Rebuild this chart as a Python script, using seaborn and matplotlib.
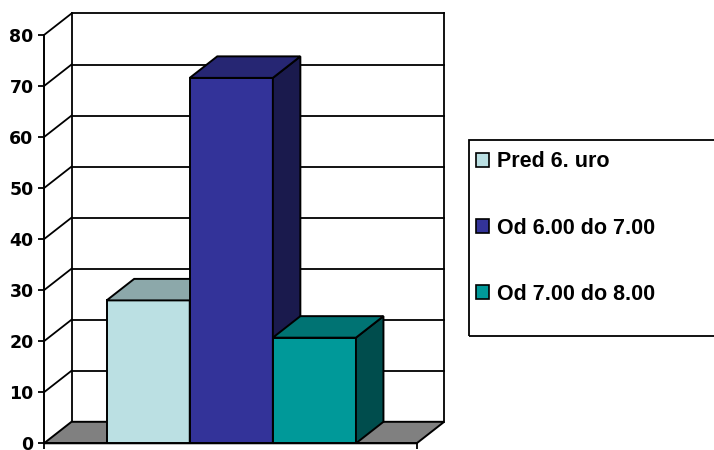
import pandas as pd
import matplotlib.pyplot as plt
import seaborn as sns
from matplotlib.patches import Polygon, Rectangle, Patch

# podatki
series = ['Pred 6. uro', 'Od 6.00 do 7.00', 'Od 7.00 do 8.00']
values = [28, 71.6, 20.7]
yticks = [0, 10, 20, 30, 40, 50, 60, 70, 80]

front_cols = ['#BBE0E3', '#333399', '#009999']
top_cols = ['#8CA8AA', '#262673', '#007373']
side_cols = ['#5E7072', '#1A1A4D', '#004D4D']

df = pd.DataFrame({'obdobje': series, 'delez': values})

W, H = 714, 450
fig = plt.figure(figsize=(W / 100, H / 100), dpi=100)
ax = fig.add_axes([44 / W, (H - 443.3) / H, (416.7 - 44) / W, (443.3 - 35) / H])

sns.barplot(data=df, x='obdobje', y='delez', hue='obdobje', palette=front_cols,
            width=1, saturation=1, edgecolor='black', linewidth=1.4, legend=False, ax=ax)

xmin, xmax = -1.254, 3.231
ymin, ymax = 0, 80
ax.set_xlim(xmin, xmax)
ax.set_ylim(ymin, ymax)
ax.autoscale(False)

# globina 3D v enotah podatkov
pos = ax.get_position()
px_x = pos.width * W / (xmax - xmin)
px_y = pos.height * H / (ymax - ymin)
dx = 27.5 / px_x
dy = 21.5 / px_y

lw = 1.3
# zadnja stena + stranska stena
for yv in yticks[1:]:
    ax.plot([xmin + dx, xmax + dx], [yv + dy, yv + dy], color='black', lw=lw, clip_on=False, zorder=0.5)
    ax.plot([xmin, xmin + dx], [yv, yv + dy], color='black', lw=lw, clip_on=False, zorder=0.5)
ax.plot([xmin + dx, xmin + dx], [dy, ymax + dy], color='black', lw=lw, clip_on=False, zorder=0.5)
ax.plot([xmax + dx, xmax + dx], [dy, ymax + dy], color='black', lw=lw, clip_on=False, zorder=0.5)

# tla
floor = Polygon([(xmin, 0), (xmax, 0), (xmax + dx, dy), (xmin + dx, dy)], closed=True,
                facecolor='#808080', edgecolor='black', lw=1.4, clip_on=False, zorder=1)
ax.add_patch(floor)

# 3D stolpci
bars = [p for p in ax.patches if p is not floor]
for i, p in enumerate(bars):
    x0 = p.get_x()
    x1 = x0 + p.get_width()
    h = p.get_height()
    p.set_zorder(3 + 3 * i)
    p.set_clip_on(False)
    top = Polygon([(x0, h), (x1, h), (x1 + dx, h + dy), (x0 + dx, h + dy)], closed=True,
                  facecolor=top_cols[i], edgecolor='black', lw=1.4, clip_on=False, zorder=4 + 3 * i)
    side = Polygon([(x1, 0), (x1, h), (x1 + dx, h + dy), (x1 + dx, dy)], closed=True,
                   facecolor=side_cols[i], edgecolor='black', lw=1.4, clip_on=False, zorder=4 + 3 * i)
    ax.add_patch(side)
    ax.add_patch(top)

# osi
ax.set_xlabel('')
ax.set_ylabel('')
ax.set_yticks(yticks)
ax.set_xticks([xmin, xmax])
ax.set_xticklabels(['', ''])
ax.tick_params(axis='y', direction='out', length=4, width=1.3, labelsize=12.5, pad=3.5)
ax.tick_params(axis='x', direction='out', length=4.5, width=1.3)
for t in ax.get_yticklabels():
    t.set_fontweight('bold')
for s in ['top', 'right']:
    ax.spines[s].set_visible(False)
for s in ['left', 'bottom']:
    ax.spines[s].set_linewidth(1.4)
    ax.spines[s].set_zorder(2)
ax.patch.set_alpha(0)

# legenda
handles = [Patch(facecolor=c, edgecolor='black', linewidth=1.2) for c in front_cols]
fig.legend(handles, series, loc='center left', bbox_to_anchor=(476 / W, 1 - 228 / H),
           frameon=False, borderpad=0, borderaxespad=0, handlelength=0.62, handleheight=0.62,
           handletextpad=0.35, labelspacing=2.1,
           prop={'family': 'Liberation Sans', 'weight': 'bold', 'size': 15.5})
fig.patches.append(Rectangle((469 / W, 1 - 336 / H), (720 - 469) / W, (336 - 140) / H,
                             transform=fig.transFigure, fill=False, edgecolor='black', lw=1.3))

fig.savefig('out.png', dpi=100)
